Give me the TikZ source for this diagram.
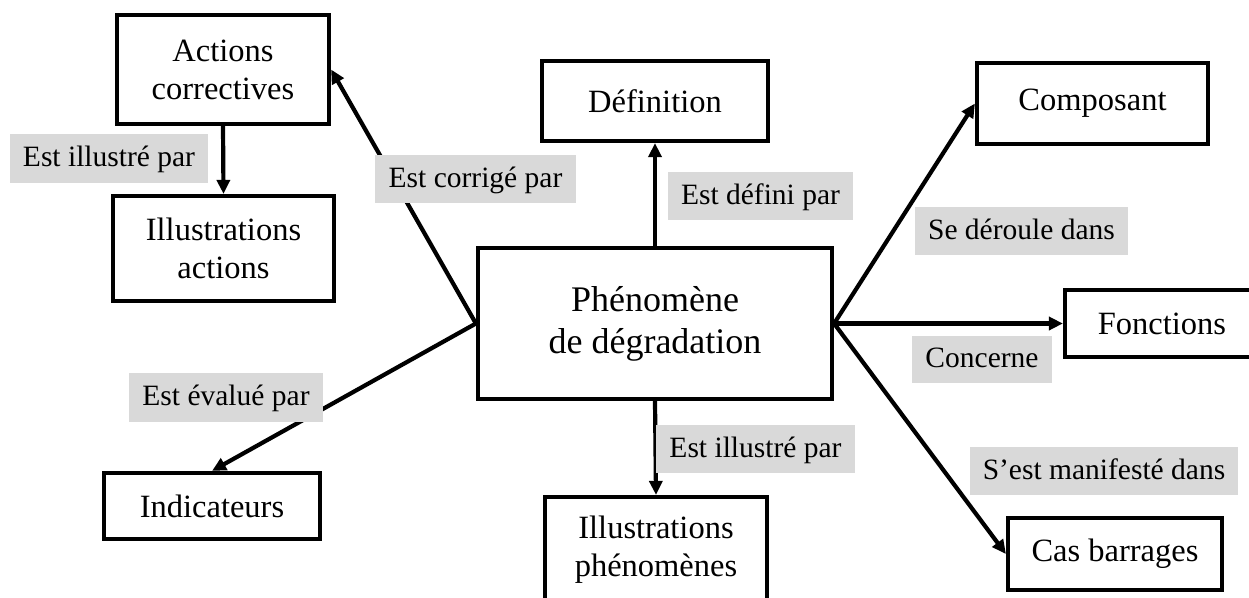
\documentclass[tikz,border=0pt]{standalone}
\usepackage{fontspec}
\setmainfont{Liberation Serif}
\usetikzlibrary{arrows.meta}
\definecolor{labelgray}{RGB}{217,217,217}
\begin{document}
\begin{tikzpicture}[x=1pt,y=-1pt,
  box/.style={draw, line width=4.2pt, fill=white, align=center, inner sep=0pt,
              font=\fontsize{32.5}{38}\selectfont},
  lbl/.style={fill=labelgray, inner sep=0pt, font=\fontsize{29.5}{34}\selectfont,
              text height=20pt, text depth=4pt},
  link/.style={line width=4.2pt, -{Triangle[length=14pt,width=13pt]}},
]
\useasboundingbox (0,0) rectangle (1249,597);
\fill[white] (0,0) rectangle (1249,597);
\clip (0,0) rectangle (1249,597);

% concept boxes
\node[box, minimum width=354pt, minimum height=151pt,
      font=\fontsize{36}{42}\selectfont] (phen) at (655,323.5) {Phénomène\\de dégradation};
\node[box, minimum width=212pt, minimum height=109pt] (act)  at (223,69.5)   {Actions\\correctives};
\node[box, minimum width=221pt, minimum height=105pt] (illa) at (223.5,248.5) {Illustrations\\actions};
\node[box, minimum width=226pt, minimum height=80pt]  (def)  at (655,101)    {Définition};
\node[box, minimum width=231pt, minimum height=81pt]  (comp) at (1092.5,103.5) {Composant};
\node[box, minimum width=194pt, minimum height=67pt]  (fonc) at (1162,323.5) {Fonctions};
\node[box, minimum width=214pt, minimum height=72pt]  (cas)  at (1115,554)   {Cas barrages};
\node[box, minimum width=216pt, minimum height=66pt]  (ind)  at (212,506)    {Indicateurs};
\node[box, minimum width=222pt, minimum height=105pt] (illp) at (656,549.5)  {Illustrations\\phénomènes};

% connectors
\draw[link] (act.south) -- (illa.north);
\draw[link] (phen.west) -- (act.east);
\draw[link] (phen.west) -- (ind.north);
\draw[link] (phen.north) -- (def.south);
\draw[link] (phen.east) -- (comp.west);
\draw[link] (phen.east) -- (fonc.west);
\draw[link] (phen.east) -- (cas.west);
\draw[link] (phen.south) -- (illp.north);

% relation labels
\node[lbl, minimum width=198pt, minimum height=49pt] (l1) at (109,158.5)  {Est illustré par};
\node[lbl, minimum width=201pt, minimum height=48pt] (l2) at (475.5,179)  {Est corrigé par};
\node[lbl, minimum width=185pt, minimum height=48pt] (l3) at (760.5,196)  {Est défini par};
\node[lbl, minimum width=213pt, minimum height=48pt] (l4) at (1021.5,231) {Se déroule dans};
\node[lbl, minimum width=140pt, minimum height=47pt] (l5) at (982,359.5)  {Concerne};
\node[lbl, minimum width=194pt, minimum height=49pt] (l6) at (226,397.5)  {Est évalué par};
\node[lbl, minimum width=199pt, minimum height=48pt] (l7) at (755.5,449)  {Est illustré par};
\node[lbl, minimum width=268pt, minimum height=48pt] (l8) at (1104,471)   {S’est manifesté dans};
\end{tikzpicture}
\end{document}
